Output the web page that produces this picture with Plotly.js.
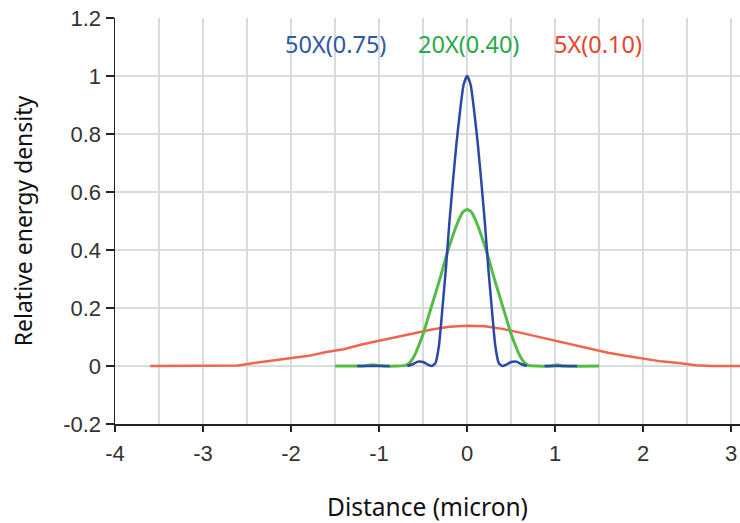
<!DOCTYPE html>
<html>
<head>
<meta charset="utf-8">
<script src="https://cdn.plot.ly/plotly-3.0.1.min.js"></script>
<style>html,body{margin:0;padding:0;background:#fff;}#chart{width:740px;height:523px;}</style>
</head>
<body>
<div id="chart"></div>
<script>
// 5X(0.10) series
var redX = [-3.6, -3.0, -2.6, -2.4, -2.2, -2.0, -1.8, -1.6, -1.4, -1.2, -1.0, -0.8, -0.6, -0.4, -0.2, 0, 0.2, 0.4, 0.6, 0.8, 1.0, 1.2, 1.4, 1.6, 1.8, 2.0, 2.2, 2.4, 2.6, 2.8, 3.2];
var redY = [0, 0, 0.002, 0.011, 0.019, 0.026, 0.035, 0.048, 0.058, 0.074, 0.087, 0.099, 0.113, 0.126, 0.135, 0.139, 0.137, 0.128, 0.115, 0.101, 0.086, 0.073, 0.060, 0.046, 0.035, 0.025, 0.016, 0.010, 0.003, 0, 0];

// 20X(0.40) series
var greenX = [-1.5, -1.2, -1.07, -0.95, -0.8, -0.7, -0.65, -0.6, -0.55, -0.5, -0.45, -0.4, -0.35, -0.3, -0.25, -0.2, -0.15, -0.1, -0.05, 0, 0.05, 0.1, 0.15, 0.2, 0.25, 0.3, 0.35, 0.4, 0.45, 0.5, 0.55, 0.6, 0.65, 0.7, 0.8, 0.95, 1.02, 1.1, 1.5];
var greenY = [0, 0, 0.004, 0, 0, 0.002, 0.012, 0.035, 0.07, 0.11, 0.16, 0.21, 0.26, 0.31, 0.365, 0.415, 0.46, 0.5, 0.53, 0.54, 0.53, 0.5, 0.46, 0.415, 0.365, 0.31, 0.26, 0.21, 0.16, 0.11, 0.07, 0.035, 0.012, 0.002, 0, 0, 0.004, 0, 0];

// 50X(0.75) series (null = hidden under the green line)
var blueX = [-1.25, -0.88, -0.87, -0.68, -0.62, -0.56, -0.5, -0.44, -0.40, -0.36, -0.32, -0.28, -0.24, -0.2, -0.16, -0.12, -0.08, -0.04, 0, 0.04, 0.08, 0.12, 0.16, 0.2, 0.24, 0.28, 0.32, 0.36, 0.40, 0.44, 0.5, 0.56, 0.62, 0.68, 0.87, 0.88, 1.25];
var blueY = [0, 0, null, 0, 0.006, 0.015, 0.014, 0.004, 0, 0.01, 0.07, 0.2, 0.34, 0.5, 0.64, 0.77, 0.88, 0.97, 1.0, 0.97, 0.88, 0.77, 0.64, 0.5, 0.34, 0.2, 0.07, 0.01, 0, 0.004, 0.014, 0.015, 0.006, 0, null, 0, 0];

var seriesNames = ["50X(0.75)", "20X(0.40)", "5X(0.10)"];
var labelX = [-1.49, 0.02, 1.49];
var labelY = [1.11, 1.11, 1.11];

var yTickVals = [-0.2, 0, 0.2, 0.4, 0.6, 0.8, 1, 1.2];
var yTickText = ["-0.2", "0", "0.2", "0.4", "0.6", "0.8", "1", "1.2"];
var xTickVals = [-4, -3, -2, -1, 0, 1, 2, 3];
var xTickText = ["-4", "-3", "-2", "-1", "0", "1", "2", "3"];

var lineColors = ["#2b48a6", "#52bd44", "#f0654c"];
var textColors = ["#2f58a4", "#28a84a", "#e8442c"];

var xRange = [-4, 3.1];

var traces = [
  {x: [null], y: [null], xaxis: "x2", mode: "lines", hoverinfo: "skip", showlegend: false},
  {x: redX, y: redY, mode: "lines", line: {color: lineColors[2], width: 2.5}, name: seriesNames[2]},
  {x: greenX, y: greenY, mode: "lines", line: {color: lineColors[1], width: 3, shape: "spline", smoothing: 0.5}, name: seriesNames[1]},
  {x: blueX, y: blueY, mode: "lines", line: {color: lineColors[0], width: 2.5, shape: "spline", smoothing: 0.5}, name: seriesNames[0], connectgaps: false}
];

var annotations = seriesNames.map(function (n, i) {
  return {x: labelX[i], y: labelY[i], xref: "x", yref: "y", text: n, showarrow: false,
    xanchor: "center", yanchor: "middle",
    font: {family: "Noto Sans, Open Sans, sans-serif", size: 23.5, color: textColors[i]}};
});

var gridCol = "#d8dcdf";
var layout = {
  width: 740, height: 523,
  margin: {l: 115, r: 0, t: 18, b: 99},
  paper_bgcolor: "#ffffff", plot_bgcolor: "#ffffff",
  showlegend: false,
  xaxis: {
    range: xRange, tickvals: xTickVals, ticktext: xTickText,
    showgrid: false,
    zeroline: false, showline: true, linecolor: "#222222", linewidth: 1.5,
    ticks: "outside", ticklen: 6, tickcolor: "#222222", tickwidth: 1.5,
    ticklabelstandoff: 3,
    tickfont: {family: "Liberation Sans, Arial, sans-serif", size: 22, color: "#333333"},
    title: {text: "Distance (micron)", standoff: 36,
      font: {family: "Noto Sans, Open Sans, sans-serif", size: 24.5, color: "#111111"}},
    automargin: false
  },
  xaxis2: {
    overlaying: "x", anchor: "y", range: xRange,
    tickmode: "linear", tick0: 0, dtick: 0.5,
    showgrid: true, gridcolor: gridCol, gridwidth: 2,
    showticklabels: false, ticks: "", showline: false, zeroline: false
  },
  yaxis: {
    range: [-0.2, 1.2], tickvals: yTickVals, ticktext: yTickText,
    showgrid: true, gridcolor: gridCol, gridwidth: 2,
    zeroline: false, showline: true, linecolor: "#222222", linewidth: 1.5,
    ticks: "outside", ticklen: 8, tickcolor: "#222222", tickwidth: 1.5,
    tickfont: {family: "Liberation Sans, Arial, sans-serif", size: 22, color: "#333333"},
    title: {text: "Relative energy density", standoff: 24,
      font: {family: "Noto Sans, Open Sans, sans-serif", size: 23, color: "#111111"}},
    automargin: false
  },
  annotations: annotations
};

Plotly.newPlot("chart", traces, layout, {displayModeBar: false, staticPlot: true});
</script>
</body>
</html>
